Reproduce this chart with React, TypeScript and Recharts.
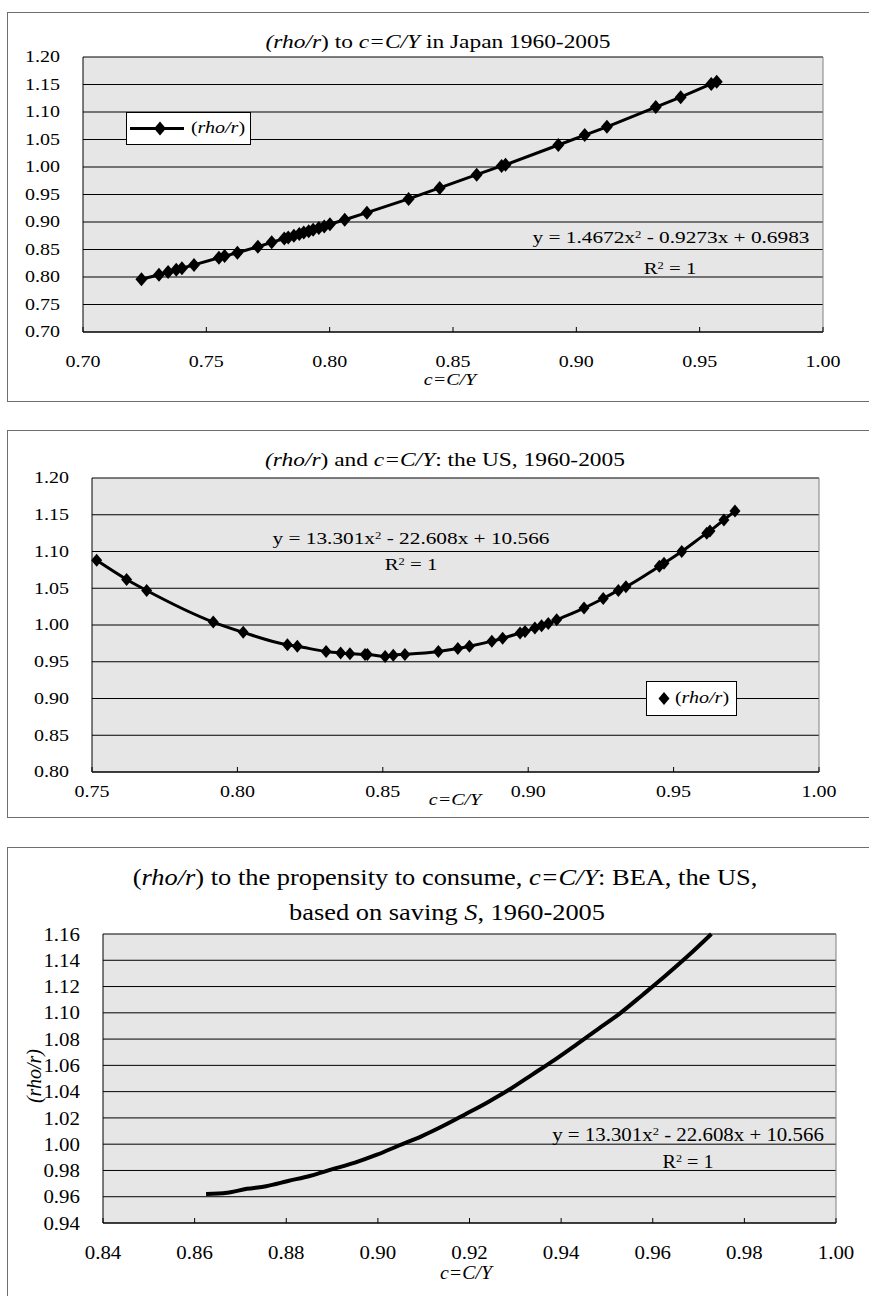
import { CartesianGrid, Line, LineChart, ReferenceLine, XAxis, YAxis } from 'recharts'

const SERIF = '"Liberation Serif", "Times New Roman", serif'

// Japan, 1960-2005
const japanC = [
  0.7237, 0.7308, 0.7345, 0.7378, 0.7401, 0.745, 0.7551, 0.7574, 0.7626, 0.7709, 0.7765, 0.7816,
  0.7832, 0.7855, 0.7877, 0.7895, 0.7915, 0.7933, 0.7956, 0.7978, 0.8001, 0.8061, 0.8151, 0.832,
  0.8446, 0.8596, 0.8697, 0.8713, 0.8927, 0.9034, 0.9124, 0.9322, 0.9423, 0.9547, 0.9569,
]
const japanRho = [
  0.796, 0.804, 0.809, 0.813, 0.816, 0.822, 0.835, 0.838, 0.844, 0.855, 0.863, 0.87, 0.872, 0.875,
  0.878, 0.881, 0.883, 0.886, 0.889, 0.892, 0.896, 0.904, 0.917, 0.942, 0.962, 0.986, 1.002, 1.004,
  1.04, 1.058, 1.073, 1.109, 1.127, 1.151, 1.155,
]

// the US, 1960-2005
const usC = [
  0.7516, 0.7619, 0.7688, 0.7917, 0.802, 0.8172, 0.8206, 0.8305, 0.8355, 0.8387, 0.8439, 0.8447,
  0.8508, 0.8536, 0.8576, 0.8691, 0.8758, 0.8798, 0.8875, 0.8912, 0.8972, 0.8989, 0.9023, 0.9046,
  0.9069, 0.9098, 0.9192, 0.9258, 0.931, 0.9336, 0.9451, 0.9467, 0.9528, 0.9614, 0.9625, 0.9673,
  0.9711,
]
const usRho = [
  1.088, 1.062, 1.047, 1.004, 0.99, 0.973, 0.971, 0.964, 0.962, 0.961, 0.96, 0.96, 0.957, 0.959,
  0.96, 0.964, 0.968, 0.971, 0.978, 0.982, 0.989, 0.991, 0.996, 0.999, 1.002, 1.007, 1.023, 1.036,
  1.047, 1.052, 1.08, 1.084, 1.1, 1.125, 1.128, 1.143, 1.155,
]

// BEA, based on saving S
const beaC = [
  0.8625, 0.8671, 0.8714, 0.8756, 0.8804, 0.8853, 0.8901, 0.895, 0.8998, 0.9046, 0.9095, 0.9143,
  0.9192, 0.924, 0.9289, 0.9337, 0.9385, 0.9434, 0.9482, 0.953, 0.9579, 0.9627, 0.9676, 0.9728,
]
const beaRho = [
  0.962, 0.963, 0.966, 0.968, 0.972, 0.976, 0.981, 0.986, 0.992, 0.999, 1.006, 1.014, 1.023,
  1.032, 1.042, 1.053, 1.064, 1.076, 1.088, 1.1, 1.114, 1.128, 1.143, 1.16,
]

const japanXTicks = [0.7, 0.75, 0.8, 0.85, 0.9, 0.95, 1.0]
const japanYTicks = [0.7, 0.75, 0.8, 0.85, 0.9, 0.95, 1.0, 1.05, 1.1, 1.15, 1.2]
const usXTicks = [0.75, 0.8, 0.85, 0.9, 0.95, 1.0]
const usYTicks = [0.8, 0.85, 0.9, 0.95, 1.0, 1.05, 1.1, 1.15, 1.2]
const beaXTicks = [0.84, 0.86, 0.88, 0.9, 0.92, 0.94, 0.96, 0.98, 1.0]
const beaYTicks = [0.94, 0.96, 0.98, 1.0, 1.02, 1.04, 1.06, 1.08, 1.1, 1.12, 1.14, 1.16]

const toRows = (cs: number[], rs: number[]) => cs.map((c, i) => ({ c, rho: rs[i] }))

const makeXTick = (dy: number, fs: number, sx: number) => (props: any) => {
  const { x, y, payload } = props
  return (
    <g>
      <line x1={x} x2={x} y1={y - 5} y2={y} stroke="#000" />
      <text
        transform={`translate(${x},${y + dy}) scale(${sx},1)`}
        textAnchor="middle"
        dominantBaseline="central"
        fontSize={fs}
        fontFamily={SERIF}
        fill="#000"
      >
        {Number(payload.value).toFixed(2)}
      </text>
    </g>
  )
}

const makeYTick = (gap: number, fs: number, sx: number) => (props: any) => {
  const { x, y, payload } = props
  return (
    <text
      transform={`translate(${x - gap},${y}) scale(${sx},1)`}
      textAnchor="end"
      dominantBaseline="central"
      fontSize={fs}
      fontFamily={SERIF}
      fill="#000"
    >
      {Number(payload.value).toFixed(2)}
    </text>
  )
}

const makeDiamond = (w: number, h: number) => (p: any) => (
  <polygon
    key={`d${p.index}`}
    points={`${p.cx},${p.cy - h} ${p.cx + w},${p.cy} ${p.cx},${p.cy + h} ${p.cx - w},${p.cy}`}
    fill="#000"
  />
)

const Txt = ({ x, y, size, sx = 1, italic, children }: any) => (
  <div
    style={{
      position: 'absolute',
      left: x,
      top: y,
      transform: `translate(-50%,-50%) scaleX(${sx})`,
      fontSize: size,
      fontFamily: SERIF,
      fontStyle: italic ? 'italic' : 'normal',
      whiteSpace: 'nowrap',
      lineHeight: 1,
      color: '#000',
    }}
  >
    {children}
  </div>
)

const Box = ({ top, height }: { top: number; height: number }) => (
  <div
    style={{
      position: 'absolute',
      left: 7,
      top,
      width: 870,
      height,
      boxSizing: 'border-box',
      border: '1px solid #6e6e6e',
    }}
  />
)

const sup = { fontSize: '0.6em', verticalAlign: '0.6em' }

const App = () => {
  const japan = toRows(japanC, japanRho)
  const us = toRows(usC, usRho)
  const bea = toRows(beaC, beaRho)

  return (
    <div
      style={{
        position: 'absolute',
        left: 0,
        top: 0,
        width: 869,
        height: 1296,
        overflow: 'hidden',
        background: '#fff',
      }}
    >
      <Box top={12} height={390} />
      <Box top={430} height={388} />
      <Box top={847} height={470} />

      {/* Japan */}
      <div style={{ position: 'absolute', left: 0, top: 0 }}>
        <LineChart width={869} height={410} data={japan} margin={{ top: 57, right: 46, bottom: 48, left: 0 }}>
          <CartesianGrid vertical={false} stroke="#000" fill="#e6e6e6" fillOpacity={1} />
          <XAxis
            type="number"
            dataKey="c"
            domain={[0.7, 1]}
            ticks={japanXTicks}
            interval={0}
            height={30}
            tickSize={0}
            tickMargin={0}
            tickLine={false}
            axisLine={{ stroke: '#000' }}
            tick={makeXTick(30, 16, 1.25)}
          />
          <YAxis
            type="number"
            domain={[0.7, 1.2]}
            ticks={japanYTicks}
            interval={0}
            width={83}
            tickSize={0}
            tickMargin={0}
            tickLine={false}
            axisLine={{ stroke: '#000' }}
            tick={makeYTick(23, 16, 1.25)}
          />
          <ReferenceLine x={1} stroke="#808080" />
          <Line
            type="linear"
            dataKey="rho"
            stroke="#000"
            strokeWidth={3}
            dot={makeDiamond(6, 7)}
            isAnimationActive={false}
          />
        </LineChart>
      </div>
      <Txt x={438} y={42} size={18} sx={1.3}>
        <i>(rho/r</i>) to <i>c=C/Y</i> in Japan 1960-2005
      </Txt>
      <Txt x={671} y={238} size={16} sx={1.33}>
        y = 1.4672x<span style={sup}>2</span> - 0.9273x + 0.6983
      </Txt>
      <Txt x={670} y={269} size={16} sx={1.3}>
        R<span style={sup}>2</span> = 1
      </Txt>
      <Txt x={450} y={380} size={16} sx={1.25} italic>
        c=C/Y
      </Txt>
      <div
        style={{
          position: 'absolute',
          left: 126,
          top: 112,
          width: 125,
          height: 33,
          boxSizing: 'border-box',
          border: '1px solid #000',
          background: '#fff',
        }}
      >
        <svg width={60} height={31} style={{ position: 'absolute', left: 0, top: 0 }}>
          <line x1={3} x2={57} y1={15.5} y2={15.5} stroke="#000" strokeWidth={3} />
          <polygon points="33,8.5 39,15.5 33,22.5 27,15.5" fill="#000" />
        </svg>
      </div>
      <Txt x={218} y={128} size={16} sx={1.25}>
        (<i>rho/r</i>)
      </Txt>

      {/* the US */}
      <div style={{ position: 'absolute', left: 0, top: 420 }}>
        <LineChart width={869} height={410} data={us} margin={{ top: 58, right: 50, bottom: 28, left: 0 }}>
          <CartesianGrid vertical={false} stroke="#000" fill="#e6e6e6" fillOpacity={1} />
          <XAxis
            type="number"
            dataKey="c"
            domain={[0.75, 1]}
            ticks={usXTicks}
            interval={0}
            height={30}
            tickSize={0}
            tickMargin={0}
            tickLine={false}
            axisLine={{ stroke: '#000' }}
            tick={makeXTick(20, 16, 1.25)}
          />
          <YAxis
            type="number"
            domain={[0.8, 1.2]}
            ticks={usYTicks}
            interval={0}
            width={92}
            tickSize={0}
            tickMargin={0}
            tickLine={false}
            axisLine={{ stroke: '#000' }}
            tick={makeYTick(23, 16, 1.25)}
          />
          <ReferenceLine x={1} stroke="#808080" />
          <Line
            type="monotone"
            dataKey="rho"
            stroke="#000"
            strokeWidth={3}
            dot={makeDiamond(5.5, 6.5)}
            isAnimationActive={false}
          />
        </LineChart>
      </div>
      <Txt x={445} y={460} size={18} sx={1.3}>
        <i>(rho/r</i>) and <i>c=C/Y</i>: the US, 1960-2005
      </Txt>
      <Txt x={411} y={539} size={16} sx={1.33}>
        y = 13.301x<span style={sup}>2</span> - 22.608x + 10.566
      </Txt>
      <Txt x={411} y={565} size={16} sx={1.3}>
        R<span style={sup}>2</span> = 1
      </Txt>
      <Txt x={455} y={800} size={16} sx={1.25} italic>
        c=C/Y
      </Txt>
      <div
        style={{
          position: 'absolute',
          left: 646,
          top: 681,
          width: 91,
          height: 35,
          boxSizing: 'border-box',
          border: '1px solid #000',
          background: '#fff',
        }}
      >
        <svg width={30} height={33} style={{ position: 'absolute', left: 0, top: 0 }}>
          <polygon points="17,10 22.5,16.5 17,23 11.5,16.5" fill="#000" />
        </svg>
      </div>
      <Txt x={702} y={698} size={16} sx={1.25}>
        (<i>rho/r</i>)
      </Txt>

      {/* BEA */}
      <div style={{ position: 'absolute', left: 0, top: 840 }}>
        <LineChart width={869} height={456} data={bea} margin={{ top: 94, right: 33, bottom: 43, left: 0 }}>
          <CartesianGrid vertical={false} stroke="#000" fill="#e6e6e6" fillOpacity={1} />
          <XAxis
            type="number"
            dataKey="c"
            domain={[0.84, 1]}
            ticks={beaXTicks}
            interval={0}
            height={30}
            tickSize={0}
            tickMargin={0}
            tickLine={false}
            axisLine={{ stroke: '#000' }}
            tick={makeXTick(29, 19, 1.1)}
          />
          <YAxis
            type="number"
            domain={[0.94, 1.16]}
            ticks={beaYTicks}
            interval={0}
            width={103}
            tickSize={0}
            tickMargin={0}
            tickLine={false}
            axisLine={{ stroke: '#000' }}
            tick={makeYTick(23, 19, 1.1)}
          />
          <ReferenceLine x={1} stroke="#808080" />
          <Line
            type="monotone"
            dataKey="rho"
            stroke="#000"
            strokeWidth={4}
            dot={false}
            isAnimationActive={false}
          />
        </LineChart>
      </div>
      <Txt x={445} y={877} size={24} sx={1.1}>
        (<i>rho/r</i>) to the propensity to consume, <i>c=C/Y</i>: BEA, the US,
      </Txt>
      <Txt x={447} y={912} size={24} sx={1.1}>
        based on saving <i>S</i>, 1960-2005
      </Txt>
      <Txt x={688} y={1135} size={18} sx={1.16}>
        y = 13.301x<span style={sup}>2</span> - 22.608x + 10.566
      </Txt>
      <Txt x={688} y={1162} size={18} sx={1.12}>
        R<span style={sup}>2</span> = 1
      </Txt>
      <Txt x={466} y={1273} size={18} sx={1.1} italic>
        c=C/Y
      </Txt>
      <div
        style={{
          position: 'absolute',
          left: 34,
          top: 1076,
          transform: 'translate(-50%,-50%) rotate(-90deg)',
          fontSize: 20,
          fontFamily: SERIF,
          fontStyle: 'italic',
          whiteSpace: 'nowrap',
          lineHeight: 1,
        }}
      >
        (rho/r)
      </div>
    </div>
  )
}

export default App
